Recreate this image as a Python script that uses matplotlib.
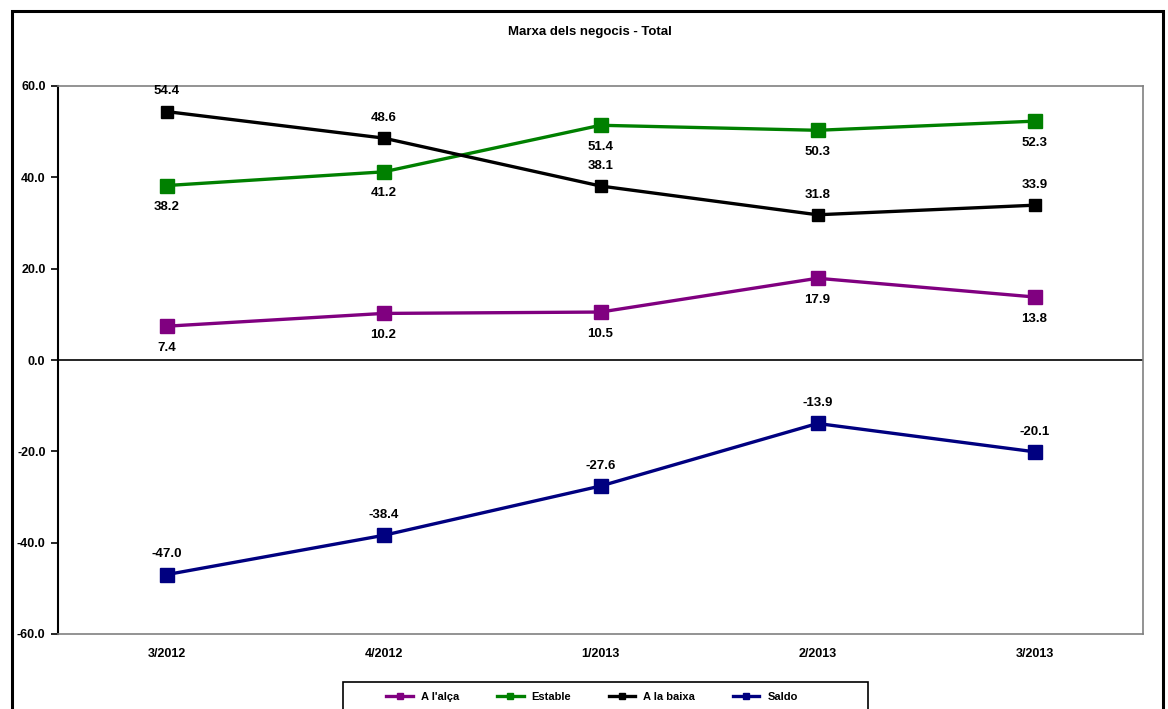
import numpy as np
import matplotlib.pyplot as plt
from matplotlib.patches import Rectangle

plt.rcParams['font.family'] = ['Liberation Sans', 'DejaVu Sans']
plt.rcParams['font.weight'] = 'bold'

periods = ['3/2012', '4/2012', '1/2013', '2/2013', '3/2013']
alca = [7.4, 10.2, 10.5, 17.9, 13.8]
estable = [38.2, 41.2, 51.4, 50.3, 52.3]
baixa = [54.4, 48.6, 38.1, 31.8, 33.9]
saldo = [-47.0, -38.4, -27.6, -13.9, -20.1]

series = [
    ("A l'alça", alca, '#800080', 10, 'below'),
    ('Estable', estable, '#008000', 10, 'below'),
    ('A la baixa', baixa, '#000000', 8.5, 'above'),
    ('Saldo', saldo, '#000080', 10, 'above'),
]

W, H = 1168, 709
fig = plt.figure(figsize=(W / 100, H / 100), dpi=100)
ax = fig.add_axes([58 / W, 1 - 634 / H, (1143 - 58) / W, (634 - 86) / H])

x = np.arange(len(periods)) + 0.5
for name, vals, col, ms, pos in series:
    ax.plot(x, vals, color=col, lw=2.4, marker='s', ms=ms, label=name)
    for xi, v in zip(x, vals):
        off = 14.5 if pos == 'above' else -15.5
        ax.annotate(f'{v:.1f}', (xi, v), xytext=(0, off), textcoords='offset points',
                    ha='center', va='center', fontsize=9.5, fontweight='bold')

ax.axhline(0, color='black', lw=1.2)
ax.set_xlim(0, len(periods))
ax.set_ylim(-60, 60)
ax.set_yticks(np.arange(-60, 61, 20))
ax.set_yticklabels([f'{v:.1f}' for v in np.arange(-60, 61, 20)], fontsize=9, fontweight='bold')
ax.set_xticks(x)
ax.set_xticklabels(periods, fontsize=9, fontweight='bold')
ax.tick_params(axis='x', length=0, pad=10)
ax.tick_params(axis='y', length=5, width=1.2, pad=4)
for s in ['top', 'right', 'bottom']:
    ax.spines[s].set_color('#808080')
    ax.spines[s].set_linewidth(1.2)
ax.spines['left'].set_color('black')
ax.spines['left'].set_linewidth(1.5)

fig.text(590 / W, 1 - 32 / H, 'Marxa dels negocis - Total', ha='center', va='center',
         fontsize=9.5, fontweight='bold')

# legend without its own frame, box drawn separately
leg = fig.legend(loc='center', bbox_to_anchor=(592 / W, 1 - 697 / H),
                 ncol=4, frameon=False, handlelength=2.4, handletextpad=0.7,
                 columnspacing=3.4, markerscale=0.5,
                 prop={'weight': 'bold', 'size': 8})
fig.patches.append(Rectangle((343 / W, -0.05), (868 - 343) / W, 0.05 + 1 - 682 / H,
                             transform=fig.transFigure, fill=False, lw=1.2,
                             edgecolor='black', clip_on=False))

fig.patches.append(Rectangle((12 / W, -0.1), (1163 - 12) / W, 1.1 - 11 / H,
                             transform=fig.transFigure, fill=False, lw=2.2,
                             edgecolor='black', clip_on=False))

fig.savefig('out.png', dpi=100)
